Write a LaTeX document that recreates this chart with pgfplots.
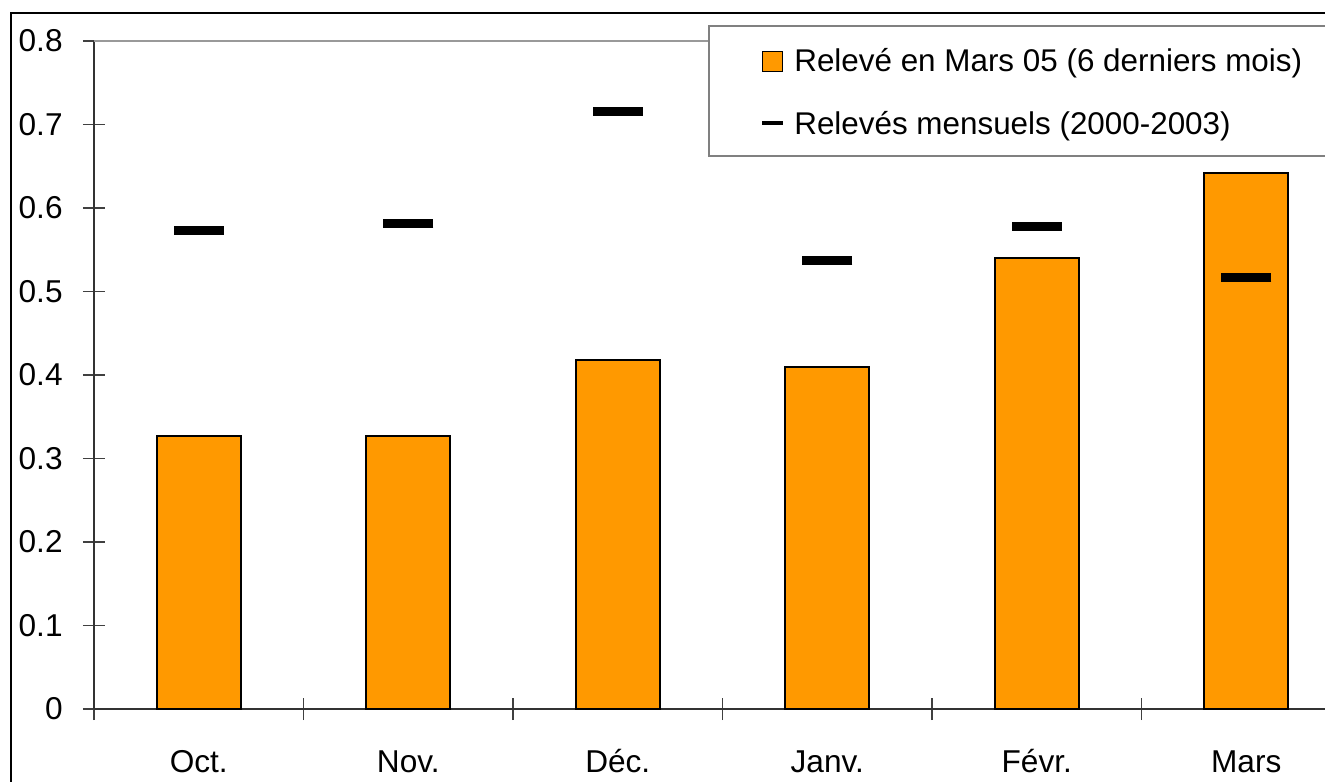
\documentclass[border=0pt]{standalone}
\usepackage{fontspec}
\setmainfont{Liberation Sans}
\usepackage{pgfplots}
\pgfplotsset{compat=1.18}
\definecolor{barorange}{HTML}{FF9900}
\pgfplotstableread{
x bar hist
0 0.327 0.573
1 0.327 0.581
2 0.418 0.716
3 0.410 0.537
4 0.540 0.578
5 0.642 0.517
}\datatable
\begin{document}
\begin{tikzpicture}
\useasboundingbox (0,0) rectangle (662.5pt,390.5pt);
\clip (0,0) rectangle (662.5pt,390.5pt);
\fill[white] (0,0) rectangle (662.5pt,390.5pt);
\begin{axis}[
  at={(47pt,36pt)}, anchor=south west,
  scale only axis,
  width=628.5pt, height=334pt,
  xmin=-0.5, xmax=5.5, ymin=0, ymax=0.8,
  axis lines*=left,
  axis line style={black!80, line width=0.6pt},
  xtick={-0.5,0.5,1.5,2.5,3.5,4.5,5.5},
  x tick label as interval,
  xticklabels={Oct.,Nov.,Déc.,Janv.,Févr.,Mars},
  ytick={0,0.1,0.2,0.3,0.4,0.5,0.6,0.7,0.8},
  /pgf/number format/assume math mode=true,
  tick align=center,
  major tick length=11pt,
  tick style={black!75, line width=0.6pt},
  ticklabel style={font=\fontsize{15.8}{19}\selectfont},
  xticklabel style={text height=12pt, text depth=0pt, inner sep=0pt, yshift=-14pt},
  yticklabel style={inner sep=0pt, xshift=-10pt},
  legend style={
    at={(0.5298,0.991)}, anchor=north west,
    draw=none, fill=none, inner sep=0pt, row sep=19pt, column sep=4.5pt,
    font=\fontsize{15.7}{19}\selectfont,
    nodes={inner sep=0pt, text height=12pt, text depth=0pt, anchor=base west},
  },
  legend cell align=left,
  clip=false,
]
\addplot[ybar, bar width=42pt, bar shift=0pt, fill=barorange, draw=black, line width=0.9pt,
  legend image code/.code={\draw[fill=barorange, draw=black, line width=0.8pt] (0pt,0pt) rectangle (10pt,10pt);}]
  table[x=x, y=bar] {\datatable};
\addlegendentry{Relevé en Mars 05 (6 derniers mois)}
\addplot[only marks, mark=-, mark size=12.5pt, mark options={line width=4.5pt, black},
  legend image code/.code={\draw[black, line width=2pt] (0pt,5.5pt) -- (10.5pt,5.5pt);}]
  table[x=x, y=hist] {\datatable};
\addlegendentry{Relevés mensuels (2000-2003)}
\end{axis}
\draw[gray!80, line width=0.6pt] (47pt,370pt) -- (354.5pt,370pt);
\draw[gray, line width=0.6pt] (354.5pt,312.5pt) rectangle (710pt,377.5pt);
\draw[black, line width=0.6pt] (5.5pt,-10pt) rectangle (700pt,384pt);
\end{tikzpicture}
\end{document}
